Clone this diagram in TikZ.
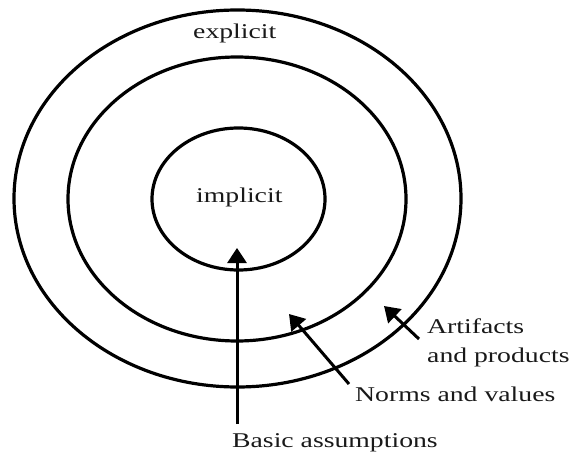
\documentclass[tikz,border=0pt]{standalone}
\usepackage{fontspec}
\setmainfont[FakeStretch=1.32]{Liberation Serif}
\usetikzlibrary{arrows.meta}
\begin{document}
\begin{tikzpicture}[x=1pt,y=-1pt,
  ring/.style={draw, line width=3.2pt},
  lbl/.style={inner sep=0pt, anchor=base west, text=black!90, font=\fontsize{21}{25}\selectfont},
  arr/.style={line width=3pt, -{Triangle[length=15pt,width=19pt]}}]
\useasboundingbox (0,0) rectangle (573,452);
% rings
\draw[ring] (237.5,198.5) ellipse [x radius=223.5, y radius=188.5];
\draw[ring] (237,199) ellipse [x radius=169, y radius=142];
\draw[ring] (238.5,199) ellipse [x radius=86.5, y radius=71];
% labels
\node[lbl] (explicit) at (193,39) {explicit};
\node[lbl] (implicit) at (196,202) {implicit};
\node[lbl] (artifacts) at (427,333) {Artifacts};
\node[lbl] (products) at (427,362) {and products};
\node[lbl] (norms) at (355,401) {Norms and values};
\node[lbl] (basic) at (232,447) {Basic assumptions};
% arrow ends
\coordinate (basicTail) at (237,424);
\coordinate (basicTip) at (237,248);
\coordinate (normsTail) at (349,384);
\coordinate (normsTip) at (289,314);
\coordinate (artTail) at (419,339);
\coordinate (artTip) at (384,306);
\draw[arr] (basicTail) -- (basicTip);
\draw[arr] (normsTail) -- (normsTip);
\draw[arr] (artTail) -- (artTip);
\end{tikzpicture}
\end{document}
